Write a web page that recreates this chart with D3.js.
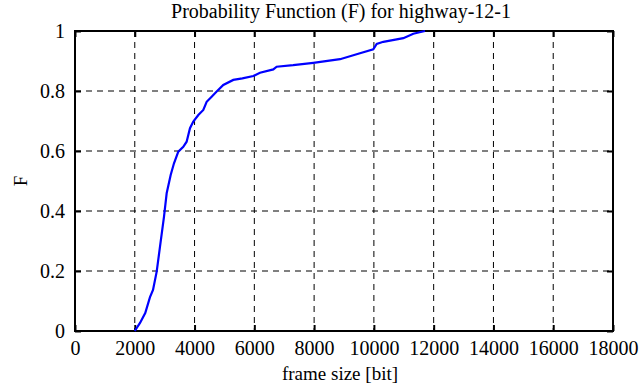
<!DOCTYPE html>
<html>
<head>
<meta charset="utf-8">
<script src="https://cdn.jsdelivr.net/npm/d3@7"></script>
<style>
  body { margin: 0; background: #fff; }
</style>
</head>
<body>
<svg id="chart"></svg>
<script>
// Data: frame size [bit] and cumulative probability F
var frameSize = [2000, 2175, 2350, 2509, 2610, 2733, 2844, 2978, 3067, 3201, 3312, 3456, 3623, 3735, 3847, 3958,
  4126, 4293, 4405, 4572, 4740, 4962, 5296, 5600, 5966, 6190, 6635, 6747, 7300, 7974, 8866, 9535, 9980,
  10094, 10316, 10985, 11319, 11710];
var probF = [0, 0.027, 0.06, 0.113, 0.137, 0.198, 0.281, 0.381, 0.459, 0.52, 0.559, 0.598, 0.614, 0.631, 0.676, 0.698,
  0.72, 0.737, 0.764, 0.781, 0.798, 0.82, 0.837, 0.842, 0.85, 0.861, 0.872, 0.881, 0.886, 0.894, 0.906, 0.926, 0.939,
  0.957, 0.964, 0.976, 0.991, 1.0];
var xTicks = [0, 2000, 4000, 6000, 8000, 10000, 12000, 14000, 16000, 18000];
var yTicks = [0, 0.2, 0.4, 0.6, 0.8, 1];

var W = 639, H = 387;
var margin = { top: 31, right: 26, bottom: 56, left: 75 };
var width = W - margin.left - margin.right;
var height = H - margin.top - margin.bottom;
var FONT = "Liberation Serif";

var svg = d3.select("#chart").attr("width", W).attr("height", H);
var g = svg.append("g").attr("transform", "translate(" + margin.left + "," + margin.top + ")");

var x = d3.scaleLinear().domain([0, 18000]).range([0, width]);
var y = d3.scaleLinear().domain([0, 1]).range([height, 0]);

// dashed grid
g.selectAll(".vgrid").data(xTicks.slice(1, -1)).enter().append("line")
  .attr("x1", function(d) { return x(d); }).attr("x2", function(d) { return x(d); })
  .attr("y1", 0).attr("y2", height)
  .attr("stroke", "#000").attr("stroke-width", 1).attr("stroke-dasharray", "6,5");
g.selectAll(".hgrid").data(yTicks.slice(1, -1)).enter().append("line")
  .attr("x1", 0).attr("x2", width)
  .attr("y1", function(d) { return y(d); }).attr("y2", function(d) { return y(d); })
  .attr("stroke", "#000").attr("stroke-width", 1).attr("stroke-dasharray", "6,5");

// axes with inward ticks
var fmtY = function(d) { return d === 0 || d === 1 ? String(d) : d.toFixed(1); };
var axB = g.append("g").attr("transform", "translate(0," + height + ")")
  .call(d3.axisBottom(x).tickValues(xTicks).tickSize(-6).tickPadding(10).tickFormat(d3.format("d")));
var axT = g.append("g")
  .call(d3.axisTop(x).tickValues(xTicks).tickSize(-6).tickFormat(""));
var axL = g.append("g")
  .call(d3.axisLeft(y).tickValues(yTicks).tickSize(-6).tickPadding(10).tickFormat(fmtY));
var axR = g.append("g").attr("transform", "translate(" + width + ",0)")
  .call(d3.axisRight(y).tickValues(yTicks).tickSize(-6).tickFormat(""));

[axB, axT, axL, axR].forEach(function(a) {
  a.attr("font-family", FONT).attr("font-size", 20);
  a.select(".domain").remove();
  a.selectAll(".tick line").attr("stroke", "#000").attr("stroke-width", 2);
  a.selectAll("text").attr("fill", "#000");
});

// frame
g.append("rect").attr("width", width).attr("height", height)
  .attr("fill", "none").attr("stroke", "#000").attr("stroke-width", 2);

// curve
var line = d3.line()
  .x(function(d, i) { return x(frameSize[i]); })
  .y(function(d) { return y(d); });
g.append("path").datum(probF)
  .attr("d", line)
  .attr("fill", "none").attr("stroke", "#0000ff").attr("stroke-width", 2.2);

// labels
svg.append("text").attr("x", 341).attr("y", 18)
  .attr("text-anchor", "middle").attr("font-family", FONT).attr("font-size", 20)
  .text("Probability Function (F) for highway-12-1");
svg.append("text").attr("x", 340).attr("y", 380)
  .attr("text-anchor", "middle").attr("font-family", FONT).attr("font-size", 19)
  .text("frame size [bit]");
svg.append("text").attr("transform", "translate(27," + (margin.top + height / 2) + ") rotate(-90)")
  .attr("text-anchor", "middle").attr("font-family", FONT).attr("font-size", 19)
  .text("F");
</script>
</body>
</html>
